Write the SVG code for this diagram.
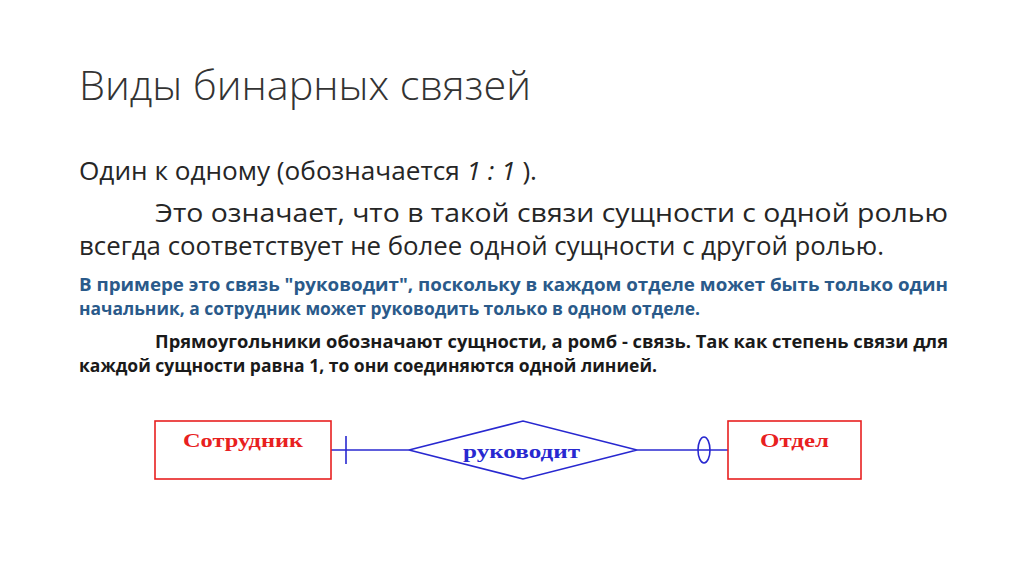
<svg xmlns="http://www.w3.org/2000/svg" width="1024" height="574" viewBox="0 0 1024 574">
<style>
.t{font-family:"Open Sans","Liberation Sans",sans-serif;fill:#262626}
.title{font-size:40px;font-weight:300;fill:#333}
.body{font-size:25px}
.blue{font-size:18px;font-weight:bold;fill:#2a5a8a}
.bold{font-size:18px;font-weight:bold;fill:#1a1a1a}
.ent{fill:#fff;stroke:#e82020;stroke-width:1.6}
.lbl{font-family:"Liberation Serif","DejaVu Serif",serif;font-weight:bold;font-size:19px}
.red{fill:#e82020}
.bl{fill:#2828d0}
.conn{stroke:#2828d0;stroke-width:1.6;fill:none}
</style>
<rect width="1024" height="574" fill="#fff"/>
<text class="t title" x="79" y="100" textLength="452" lengthAdjust="spacingAndGlyphs">Виды бинарных связей</text>
<text class="t body" x="79" y="180" textLength="458" lengthAdjust="spacingAndGlyphs">Один к одному (обозначается <tspan font-style="italic">1 : 1</tspan> ).</text>
<text class="t body" x="155" y="222" textLength="793" lengthAdjust="spacingAndGlyphs">Это означает, что в такой связи сущности с одной ролью</text>
<text class="t body" x="79" y="255" textLength="805" lengthAdjust="spacingAndGlyphs">всегда соответствует не более одной сущности с другой ролью.</text>
<text class="t blue" x="79" y="291" textLength="869" lengthAdjust="spacingAndGlyphs">В примере это связь "руководит", поскольку в каждом отделе может быть только один</text>
<text class="t blue" x="79" y="315" textLength="621" lengthAdjust="spacingAndGlyphs">начальник, а сотрудник может руководить только в одном отделе.</text>
<text class="t bold" x="155" y="348" textLength="793" lengthAdjust="spacingAndGlyphs">Прямоугольники обозначают сущности, а ромб - связь. Так как степень связи для</text>
<text class="t bold" x="79" y="372" textLength="578" lengthAdjust="spacingAndGlyphs">каждой сущности равна 1, то они соединяются одной линией.</text>
<g id="connectors">
<line class="conn" x1="331" y1="450" x2="409" y2="450"/>
<line class="conn" x1="346" y1="436" x2="346" y2="464"/>
<line class="conn" x1="637" y1="450" x2="728" y2="450"/>
<ellipse class="conn" cx="704" cy="450" rx="6" ry="13" fill="#fff"/>
</g>
<g id="sotrudnik">
<rect class="ent" x="155" y="421" width="176" height="58"/>
<text class="lbl red" x="183" y="447" textLength="120" lengthAdjust="spacingAndGlyphs">Сотрудник</text>
</g>
<g id="rukovodit">
<polygon class="conn" points="409,450 523,421 637,450 523,479" fill="#fff"/>
<text class="lbl bl" x="463" y="458" textLength="117" lengthAdjust="spacingAndGlyphs">руководит</text>
</g>
<g id="otdel">
<rect class="ent" x="728" y="421" width="133" height="58"/>
<text class="lbl red" x="760" y="447" textLength="69" lengthAdjust="spacingAndGlyphs">Отдел</text>
</g>
</svg>
